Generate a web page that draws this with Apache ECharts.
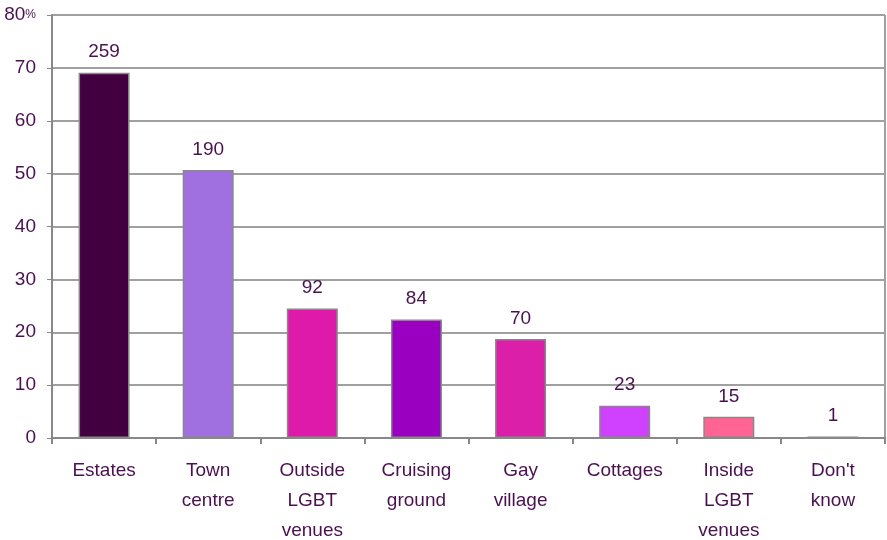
<!DOCTYPE html>
<html>
<head>
<meta charset="utf-8">
<script src="https://cdn.jsdelivr.net/npm/echarts@6/dist/echarts.min.js"></script>
<style>
html,body{margin:0;padding:0;background:#fff;}
#chart{width:887px;height:540px;}
</style>
</head>
<body>
<div id="chart"></div>
<script>
var categories=['Estates','Town\ncentre','Outside\nLGBT\nvenues','Cruising\nground','Gay\nvillage','Cottages','Inside\nLGBT\nvenues',"Don't\nknow"];
var percents=[69.1,50.7,24.5,22.4,18.7,6.1,4.0,0.3];
var counts=[259,190,92,84,70,23,15,1];
var barColors=['#420040','#a070e0','#de1aab','#9a00bf','#dc1fa8','#cf40ff','#ff6495','#808080'];
var yTicks=[0,10,20,30,40,50,60,70,80];

var textColor='#4a1050';
var fontName='Arial, Liberation Sans';
var chart=echarts.init(document.getElementById('chart'));

var data=[];
for(var i=0;i<percents.length;i++){
	data.push({
		value:percents[i],
		itemStyle:{color:barColors[i]},
		label:{formatter:String(counts[i])}
	});
}

var option={
	animation:false,
	grid:{left:52,right:2,top:15,bottom:102,outerBoundsMode:'none',containLabel:false},
	xAxis:{
		type:'category',
		data:categories,
		axisLine:{lineStyle:{color:'#888888',width:2}},
		axisTick:{show:true,length:6,lineStyle:{color:'#888888',width:2}},
		axisLabel:{color:textColor,fontFamily:fontName,fontSize:19,lineHeight:30,margin:18,interval:0}
	},
	yAxis:{
		type:'value',
		min:yTicks[0],
		max:yTicks[yTicks.length-1],
		interval:10,
		axisLine:{show:true,lineStyle:{color:'#888888',width:2}},
		axisTick:{show:true,length:5,lineStyle:{color:'#888888'}},
		splitLine:{show:true,lineStyle:{color:'#a0a0a0',width:2}},
		axisLabel:{
			color:textColor,fontFamily:fontName,fontSize:19,margin:16,
			formatter:function(v){return v==80?'{b|80}{s|%}':String(v);},
			rich:{b:{color:textColor,fontSize:19,fontFamily:fontName},s:{color:textColor,fontSize:12,fontFamily:fontName}}
		}
	},
	series:[{
		type:'bar',
		data:data,
		barWidth:51,
		itemStyle:{borderColor:'#888888',borderWidth:1.5},
		label:{show:true,position:'top',distance:11,color:textColor,fontFamily:fontName,fontSize:19}
	}],
	graphic:[{
		type:'line',
		shape:{x1:885,y1:15,x2:885,y2:438},
		style:{stroke:'#a0a0a0',lineWidth:2}
	}]
};
chart.setOption(option);
</script>
</body>
</html>
